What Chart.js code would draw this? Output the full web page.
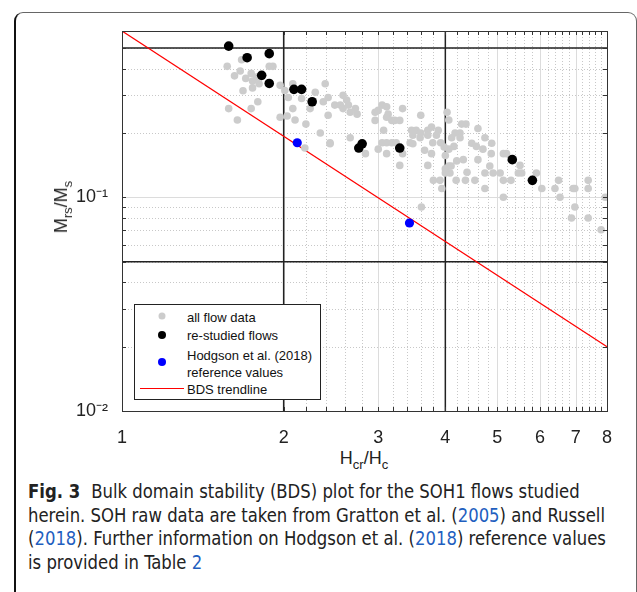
<!DOCTYPE html>
<html>
<head>
<meta charset="utf-8">
<script src="https://cdn.jsdelivr.net/npm/chart.js@4.4.1/dist/chart.umd.min.js"></script>
<style>
  body { margin: 0; background: #fff; width: 637px; height: 592px; overflow: hidden; position: relative; }
  #box { position: absolute; left: 14px; top: 12px; width: 620px; height: 640px;
         border: 1px solid #666; border-left: 2px solid #111; border-radius: 9px; }
  #chart { position: absolute; left: 0; top: 0; }
  .axt { position: absolute; font-family: 'Liberation Sans', Arial, sans-serif; font-size: 18px; color: #222; white-space: nowrap; }
  .axt sub { font-size: 13px; vertical-align: -5px; }
  #ytitle { left: 63px; top: 207px; transform: translate(-50%, -50%) rotate(-90deg); }
  #xtitle { left: 364px; top: 460px; transform: translate(-50%, -50%); }
  #legend { position: absolute; left: 134px; top: 304px; width: 185px; height: 94px; border: 1px solid #222;
            background: #fff; font-family: 'Liberation Sans', Arial, sans-serif; font-size: 13px; color: #111; }
  .row { position: absolute; left: 52px; white-space: nowrap; transform: translateY(-50%); }
  .dot { position: absolute; border-radius: 50%; transform: translate(-50%, -50%); }
  #caption { position: absolute; left: 28px; top: 480px; font-family: 'DejaVu Sans Condensed', 'Liberation Sans', sans-serif;
             font-size: 19px; line-height: 23.7px; color: #222; white-space: nowrap; transform-origin: 0 0; }
  #caption b { font-weight: bold; margin-right: 6px; }
  #caption .ref { color: #1f5fbf; }
</style>
</head>
<body>
<div id="box"></div>
<canvas id="chart" width="637" height="445"></canvas>
<div id="ytitle" class="axt">M<sub>rs</sub>/M<sub>s</sub></div>
<div id="xtitle" class="axt">H<sub>cr</sub>/H<sub>c</sub></div>
<div id="legend">
  <div class="dot" style="left:27px;top:11px;width:7px;height:7px;background:#cccccc"></div>
  <div class="row" style="top:12px">all flow data</div>
  <div class="dot" style="left:27px;top:30px;width:8px;height:8px;background:#000"></div>
  <div class="row" style="top:30px">re-studied flows</div>
  <div class="dot" style="left:27px;top:57px;width:8px;height:8px;background:#0000ff"></div>
  <div class="row" style="top:50px">Hodgson et al. (2018)</div>
  <div class="row" style="top:67px">reference values</div>
  <div style="position:absolute;left:5px;top:83px;width:44px;height:0;border-top:1.5px solid #ff0000"></div>
  <div class="row" style="top:84px">BDS trendline</div>
</div>
<div id="caption">
  <span id="cap1"><b>Fig. 3</b> Bulk domain stability (BDS) plot for the SOH1 flows studied</span><br>
  <span id="cap2">herein. SOH raw data are taken from Gratton et al. (<span class="ref">2005</span>) and Russell</span><br>
  (<span class="ref">2018</span>). Further information on Hodgson et al. (<span class="ref">2018</span>) reference values<br>
  is provided in Table <span class="ref">2</span>
</div>
<script>
// all flow data (grey)
const allFlowX = [1.57, 1.66, 1.67, 1.74, 1.75, 1.78, 1.80, 1.88, 1.91, 1.68, 1.75, 1.79, 1.58, 1.64, 1.74, 1.97, 2.01, 2.04, 2.08, 2.16,
  1.97, 2.03, 2.08, 2.10, 2.20, 2.29, 2.37, 2.39, 2.42, 2.24, 2.34, 2.44, 2.19, 1.70, 1.62,
  2.58, 2.49, 2.55, 2.58, 2.64, 2.66, 2.74, 2.42, 2.44, 2.66, 2.84, 2.96, 2.96, 3.05, 3.11, 3.13, 3.11, 3.18, 3.22, 3.29,
  3.33, 3.07, 3.05, 3.11, 3.18, 3.24, 3.00, 3.11, 3.33, 3.29, 3.46, 3.53, 3.48, 3.60, 3.59, 3.60, 3.44, 3.48, 3.71, 3.77,
  3.88, 3.85, 3.71, 3.79, 3.92, 3.98, 3.66, 3.77, 3.71, 3.80, 3.91, 3.94, 4.00, 4.00, 3.61, 2.72, 2.62, 3.00,
  4.03, 4.06, 4.17, 4.26, 4.11, 4.26, 4.29, 4.37, 4.60, 4.74, 4.48, 4.57, 4.70, 4.88, 4.15, 4.06, 4.60, 4.06, 4.08, 4.00,
  4.19, 4.36, 4.39, 4.54, 4.74, 4.91, 5.06, 4.74, 5.13, 5.20, 5.51, 5.55, 5.47, 5.13, 5.30, 5.13, 5.91, 6.05, 6.40, 6.50,
  6.54, 6.92, 6.97, 7.38, 7.38, 7.94, 6.97, 6.87, 7.38, 7.80, 4.32, 4.84, 4.87, 4.10, 4.20];
const allFlowY = [0.41, 0.39, 0.44, 0.38, 0.35, 0.365, 0.34, 0.41, 0.41, 0.315, 0.325, 0.28, 0.26, 0.23, 0.26, 0.334, 0.316, 0.293, 0.34, 0.29,
  0.237, 0.24, 0.26, 0.23, 0.22, 0.31, 0.28, 0.34, 0.293, 0.26, 0.20, 0.178, 0.17, 0.36, 0.37,
  0.30, 0.27, 0.27, 0.26, 0.27, 0.25, 0.245, 0.242, 0.18, 0.19, 0.16, 0.25, 0.229, 0.27, 0.265, 0.245, 0.237, 0.229, 0.229, 0.229,
  0.26, 0.206, 0.18, 0.18, 0.18, 0.18, 0.168, 0.16, 0.16, 0.141, 0.206, 0.206, 0.195, 0.20, 0.19, 0.242, 0.18, 0.178, 0.206, 0.213,
  0.206, 0.195, 0.195, 0.18, 0.18, 0.172, 0.166, 0.16, 0.141, 0.12, 0.12, 0.11, 0.157, 0.136, 0.09, 0.26, 0.285, 0.255,
  0.25, 0.23, 0.20, 0.20, 0.19, 0.19, 0.22, 0.22, 0.21, 0.19, 0.179, 0.173, 0.168, 0.179, 0.173, 0.168, 0.15, 0.14, 0.13, 0.13,
  0.12, 0.12, 0.131, 0.12, 0.13, 0.13, 0.13, 0.11, 0.16, 0.16, 0.141, 0.13, 0.13, 0.12, 0.12, 0.10, 0.13, 0.11, 0.11, 0.12,
  0.10, 0.11, 0.11, 0.12, 0.11, 0.10, 0.09, 0.08, 0.08, 0.0705, 0.15, 0.14, 0.16, 0.14, 0.148];

// re-studied flows (black)
const restudiedX = [1.58, 1.71, 1.88, 1.82, 1.88, 2.09, 2.16, 2.26, 2.76, 2.80, 3.29, 5.33, 5.81];
const restudiedY = [0.51, 0.45, 0.47, 0.372, 0.341, 0.32, 0.32, 0.28, 0.170, 0.178, 0.17, 0.150, 0.120];

// Hodgson et al. (2018) reference values (blue)
const hodgsonX = [2.12, 3.43];
const hodgsonY = [0.18, 0.0758];

// BDS trendline end points
const trendX = [1, 8];
const trendY = [0.6, 0.02];

// BDS boundary lines
const bdsX = [2, 4];
const bdsY = [0.05, 0.5];

// axes
const xRange = [1, 8];
const yRange = [0.01, 0.6];
const xTickValues = [1, 2, 3, 4, 5, 6, 7, 8];
const yTickValues = [0.01, 0.1];
const yTickLabels = ['10\u207B\u00B2', '10\u207B\u00B9'];
const xMinorTicks = [];
for (let i = 10; i <= 40; i++) { if (i % 5 !== 0) xMinorTicks.push(i / 5); }
const yMinorTicks = [0.02, 0.03, 0.04, 0.05, 0.06, 0.07, 0.08, 0.09, 0.2, 0.3, 0.4, 0.5];

// squeeze the caption so the second line ends where the reference does
const cap = document.getElementById('caption');
const capWidth = document.getElementById('cap2').getBoundingClientRect().width;
cap.style.transform = 'scaleX(' + (577 / capWidth) + ')';

function toPoints(xs, ys) {
  return xs.map((v, i) => ({ x: v, y: ys[i] }));
}

const boundaryData = [];
bdsX.forEach((v) => boundaryData.push({ x: v, y: yRange[0] }, { x: v, y: yRange[1] }, { x: NaN, y: NaN }));
bdsY.forEach((v) => boundaryData.push({ x: xRange[0], y: v }, { x: xRange[1], y: v }, { x: NaN, y: NaN }));

// grid, frame and inward tick marks, MATLAB style
const axesBox = {
  id: 'axesBox',
  beforeDatasetsDraw(chart) {
    const { ctx, chartArea: a, scales: { x, y } } = chart;
    ctx.save();
    ctx.lineWidth = 1;
    ctx.strokeStyle = '#c8c8c8';
    ctx.setLineDash([1, 2]);
    ctx.beginPath();
    xMinorTicks.forEach((v) => {
      const px = Math.round(x.getPixelForValue(v)) + 0.5;
      ctx.moveTo(px, a.top); ctx.lineTo(px, a.bottom);
    });
    yMinorTicks.forEach((v) => {
      const py = Math.round(y.getPixelForValue(v)) + 0.5;
      ctx.moveTo(a.left, py); ctx.lineTo(a.right, py);
    });
    ctx.stroke();
    ctx.setLineDash([]);
    ctx.strokeStyle = '#dcdcdc';
    ctx.beginPath();
    xTickValues.forEach((v) => {
      const px = Math.round(x.getPixelForValue(v)) + 0.5;
      ctx.moveTo(px, a.top); ctx.lineTo(px, a.bottom);
    });
    yTickValues.forEach((v) => {
      const py = Math.round(y.getPixelForValue(v)) + 0.5;
      ctx.moveTo(a.left, py); ctx.lineTo(a.right, py);
    });
    ctx.stroke();
    ctx.restore();
  },
  afterDatasetsDraw(chart) {
    const { ctx, chartArea: a, scales: { x, y } } = chart;
    ctx.save();
    ctx.strokeStyle = '#333';
    ctx.lineWidth = 1;
    ctx.beginPath();
    xMinorTicks.concat(xTickValues).forEach((v) => {
      const px = Math.round(x.getPixelForValue(v)) + 0.5;
      ctx.moveTo(px, a.bottom); ctx.lineTo(px, a.bottom - 4);
      ctx.moveTo(px, a.top); ctx.lineTo(px, a.top + 4);
    });
    yMinorTicks.concat(yTickValues).forEach((v) => {
      const py = Math.round(y.getPixelForValue(v)) + 0.5;
      ctx.moveTo(a.left, py); ctx.lineTo(a.left + 4, py);
      ctx.moveTo(a.right, py); ctx.lineTo(a.right - 4, py);
    });
    ctx.stroke();
    ctx.strokeRect(Math.round(a.left) + 0.5, Math.round(a.top) + 0.5,
      Math.round(a.right - a.left), Math.round(a.bottom - a.top));
    ctx.restore();
  }
};

new Chart(document.getElementById('chart'), {
  type: 'scatter',
  data: {
    datasets: [
      {
        label: 'BDS boundaries',
        data: boundaryData,
        showLine: true,
        spanGaps: false,
        borderColor: '#222',
        borderWidth: 1.5,
        pointRadius: 0,
        order: 5
      },
      {
        label: 'BDS trendline',
        data: toPoints(trendX, trendY),
        showLine: true,
        borderColor: '#ff0000',
        borderWidth: 1.2,
        pointRadius: 0,
        order: 4
      },
      {
        label: 'all flow data',
        data: toPoints(allFlowX, allFlowY),
        backgroundColor: '#cccccc',
        borderWidth: 0,
        pointRadius: 3.8,
        order: 3
      },
      {
        label: 're-studied flows',
        data: toPoints(restudiedX, restudiedY),
        backgroundColor: '#000000',
        borderWidth: 0,
        pointRadius: 4.8,
        order: 2
      },
      {
        label: 'Hodgson et al. (2018) reference values',
        data: toPoints(hodgsonX, hodgsonY),
        backgroundColor: '#0000ff',
        borderWidth: 0,
        pointRadius: 4.6,
        order: 1
      }
    ]
  },
  options: {
    responsive: false,
    animation: false,
    layout: { padding: { top: 31, right: 30, left: 0, bottom: 0 } },
    plugins: { legend: { display: false }, tooltip: { enabled: false } },
    scales: {
      x: {
        type: 'logarithmic',
        min: xRange[0],
        max: xRange[1],
        afterBuildTicks: (s) => { s.ticks = xTickValues.map((v) => ({ value: v })); },
        afterFit: (s) => { s.height = 34; },
        grid: { display: false },
        border: { display: false },
        ticks: {
          autoSkip: false,
          maxRotation: 0,
          padding: 8,
          color: '#222',
          font: { family: "'Liberation Sans', Arial, sans-serif", size: 18 },
          callback: (v) => String(v)
        }
      },
      y: {
        type: 'logarithmic',
        min: yRange[0],
        max: yRange[1],
        afterBuildTicks: (s) => { s.ticks = yTickValues.map((v) => ({ value: v })); },
        afterFit: (s) => { s.width = 122; },
        grid: { display: false },
        border: { display: false },
        ticks: {
          padding: 6,
          color: '#222',
          font: { family: "'Liberation Sans', Arial, sans-serif", size: 18 },
          callback: (v) => yTickLabels[yTickValues.indexOf(v)]
        }
      }
    }
  },
  plugins: [axesBox]
});
</script>
</body>
</html>
